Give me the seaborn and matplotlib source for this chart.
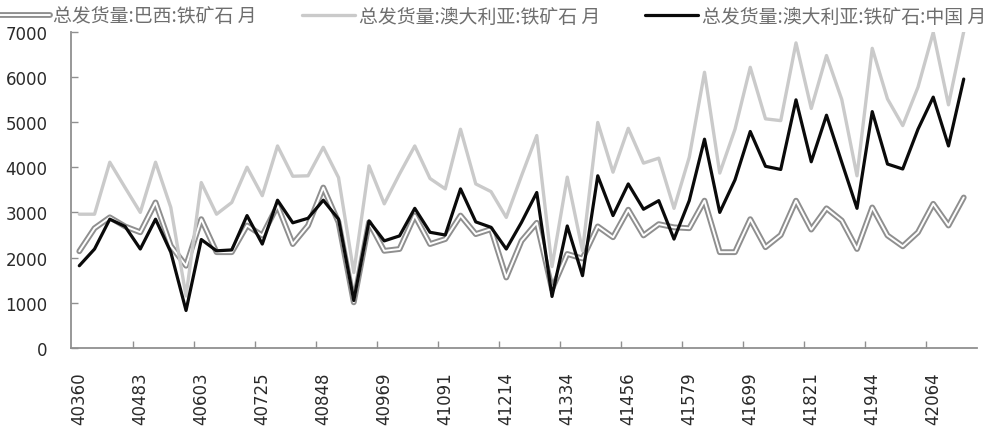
import numpy as np
import pandas as pd
import matplotlib
matplotlib.use("Agg")
import matplotlib.pyplot as plt
import matplotlib.patheffects as pe
from matplotlib.ticker import FixedLocator
import seaborn as sns

# ---- data -------------------------------------------------------------
tick_labels = ["40360", "40483", "40603", "40725", "40848", "40969", "41091",
               "41214", "41334", "41456", "41579", "41699", "41821", "41944", "42064"]

brazil = [2140, 2650, 2890, 2690, 2560, 3220, 2260, 1820, 2850, 2120,
          2120, 2710, 2490, 3150, 2300, 2710, 3550, 2780, 1010, 2780,
          2150, 2190, 2930, 2300, 2410, 2930, 2520, 2630, 1560, 2370,
          2770, 1300, 2080, 1980, 2690, 2450, 3060, 2490, 2740, 2670,
          2650, 3260, 2120, 2120, 2850, 2230, 2500, 3260, 2620, 3090,
          2820, 2190, 3110, 2490, 2250, 2560, 3190, 2710, 3330]

australia = [2960, 2960, 4110, 3550, 3000, 4110, 3110, 1150, 3660, 2960,
             3220, 4000, 3370, 4470, 3800, 3810, 4440, 3770, 1670, 4030,
             3190, 3850, 4470, 3750, 3520, 4840, 3630, 3460, 2890, 3810,
             4700, 1800, 3780, 2150, 4990, 3890, 4860, 4090, 4200, 3090,
             4220, 6100, 3870, 4840, 6210, 5070, 5030, 6750, 5300, 6470,
             5500, 3810, 6630, 5510, 4920, 5770, 6980, 5380, 7000]

aus_china = [1820, 2190, 2850, 2690, 2190, 2850, 2120, 830, 2400, 2150,
             2170, 2930, 2300, 3270, 2770, 2870, 3270, 2850, 1050, 2810,
             2370, 2480, 3090, 2560, 2500, 3520, 2790, 2670, 2190, 2780,
             3440, 1140, 2700, 1600, 3810, 2930, 3630, 3070, 3260, 2410,
             3260, 4620, 3000, 3720, 4790, 4020, 3950, 5490, 4120, 5150,
             4110, 3090, 5230, 4070, 3960, 4840, 5550, 4470, 5950]

series_names = ["总发货量:巴西:铁矿石 月", "总发货量:澳大利亚:铁矿石 月",
                "总发货量:澳大利亚:铁矿石:中国 月"]

idx = np.arange(len(brazil))
df = pd.DataFrame({"idx": idx, "brazil": brazil, "australia": australia,
                   "aus_china": aus_china})

# ---- figure -------------------------------------------------------------
sns.set_theme(style="white")
plt.rcParams["font.family"] = ["DejaVu Sans"]

W, H = 989, 435
fig = plt.figure(figsize=(W / 100, H / 100), dpi=100)
left, right, bottom_px, top_px = 71, 977, 349, 32.6
ax = fig.add_axes([left / W, 1 - bottom_px / H, (right - left) / W,
                   (bottom_px - top_px) / H])

hollow = [pe.Stroke(linewidth=4.2, foreground="#8f8f8f"), pe.Normal()]
sns.lineplot(data=df, x="idx", y="brazil", ax=ax, color="white", linewidth=1.4,
             path_effects=hollow, label=series_names[0])
sns.lineplot(data=df, x="idx", y="australia", ax=ax, color="#cacaca",
             linewidth=2.4, label=series_names[1])
sns.lineplot(data=df, x="idx", y="aus_china", ax=ax, color="#0a0a0a",
             linewidth=2.3, label=series_names[2])

ax.set_xlim(-0.544, 58.87)
ax.set_ylim(0, 7000)
ax.set_xlabel("")
ax.set_ylabel("")

ax.set_xticks(np.arange(0, len(brazil), 4))
ax.set_xticklabels(tick_labels, rotation=90, fontsize=12, color="#2a2a2a")
ax.xaxis.set_minor_locator(FixedLocator(np.arange(3.5, 57, 4)))
ax.tick_params(axis="x", which="major", length=0, pad=17)
ax.tick_params(axis="x", which="minor", direction="in", length=5, width=1,
               color="#909090", bottom=True)

ax.set_yticks(np.arange(0, 7001, 1000))
ax.set_yticklabels([str(v) for v in range(0, 7001, 1000)], fontsize=12,
                   color="#2a2a2a")
ax.tick_params(axis="y", direction="in", length=5, width=1, color="#909090",
               pad=17, left=True)

for s in ["top", "right"]:
    ax.spines[s].set_visible(False)
for s in ["left", "bottom"]:
    ax.spines[s].set_color("#909090")
    ax.spines[s].set_linewidth(1.3)
ax.grid(False)

handles, labs = ax.get_legend_handles_labels()
ax.get_legend().remove()
fig.legend(handles, labs, loc="center", bbox_to_anchor=(0.497, 1 - 17 / H),
           ncol=3, frameon=False,
           prop={"family": ["Noto Sans CJK SC", "DejaVu Sans"], "size": 13.6},
           labelcolor="#6e6e6e", handlelength=2.8, handletextpad=0.2,
           columnspacing=2.4, borderaxespad=0, borderpad=0)

fig.savefig("out.png", dpi=100)
